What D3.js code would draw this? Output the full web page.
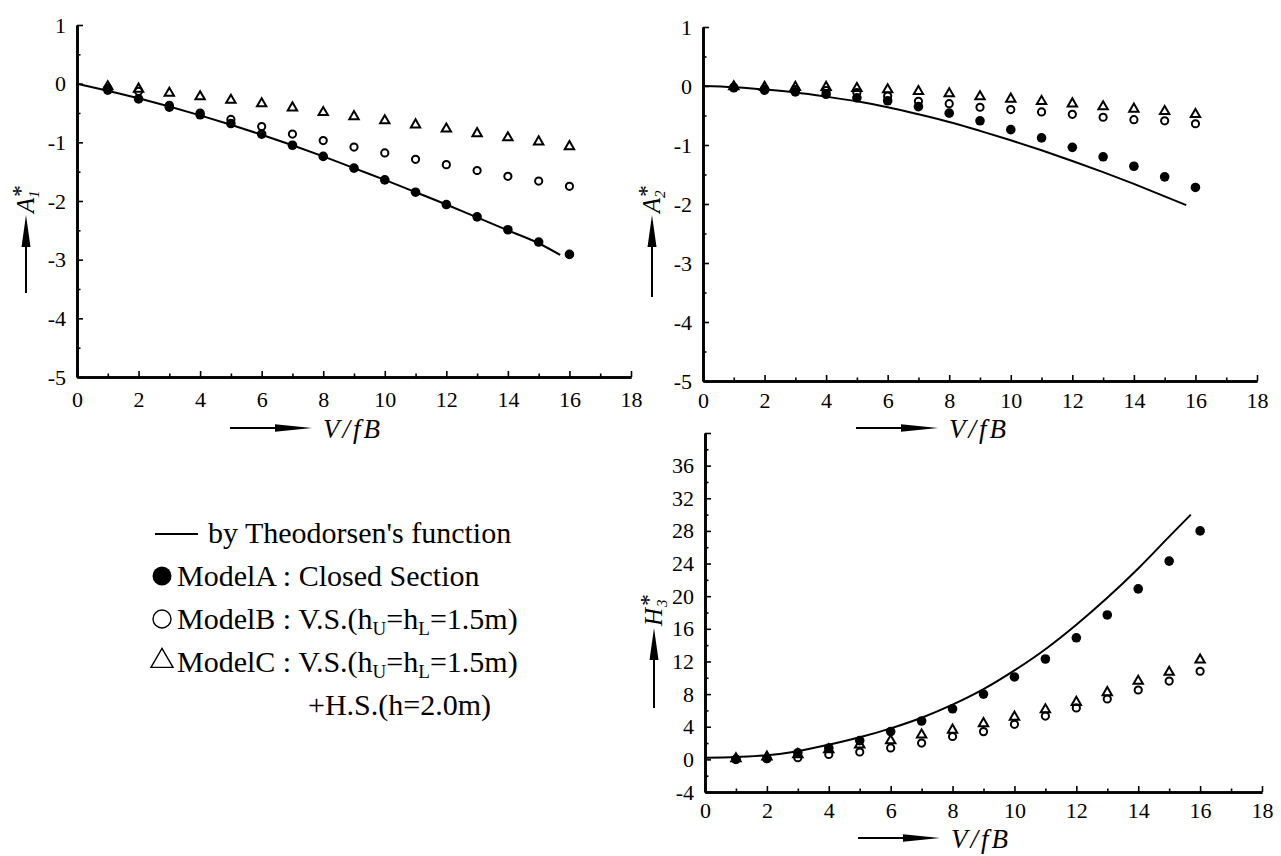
<!DOCTYPE html>
<html>
<head>
<meta charset="utf-8">
<script src="https://cdn.jsdelivr.net/npm/d3@7"></script>
<style>
  body { margin: 0; background: #fff; }
  svg { display: block; }
</style>
</head>
<body>
<svg id="chart"></svg>
<script>
// Chart size
const width = 1281;
const height = 856;

// Data: reduced velocity V/fB and the flutter derivatives
const vfb = [1, 2, 3, 4, 5, 6, 7, 8, 9, 10, 11, 12, 13, 14, 15, 16];
const theoVfb = [0, 1, 2, 3, 4, 5, 6, 7, 8, 9, 10, 11, 12, 13, 14, 15, 15.7];

const a1ModelA = [-0.11, -0.26, -0.40, -0.53, -0.68, -0.86, -1.05, -1.24, -1.44, -1.64, -1.85, -2.06, -2.27, -2.49, -2.70, -2.91];
const a1ModelB = [-0.08, -0.13, -0.37, -0.50, -0.61, -0.73, -0.86, -0.97, -1.08, -1.18, -1.29, -1.38, -1.48, -1.58, -1.66, -1.75];
const a1ModelC = [-0.05, -0.09, -0.16, -0.22, -0.28, -0.34, -0.41, -0.49, -0.56, -0.63, -0.70, -0.77, -0.85, -0.92, -0.99, -1.07];
const a1Theo = [0, -0.12, -0.25, -0.39, -0.54, -0.70, -0.87, -1.05, -1.24, -1.44, -1.64, -1.85, -2.06, -2.28, -2.50, -2.72, -2.92];

const a2ModelA = [-0.03, -0.07, -0.10, -0.14, -0.20, -0.25, -0.35, -0.46, -0.59, -0.74, -0.88, -1.04, -1.20, -1.36, -1.54, -1.72];
const a2ModelB = [-0.02, -0.05, -0.06, -0.08, -0.11, -0.17, -0.26, -0.30, -0.36, -0.40, -0.44, -0.48, -0.53, -0.57, -0.59, -0.64];
const a2ModelC = [-0.01, -0.02, -0.02, -0.02, -0.04, -0.06, -0.09, -0.13, -0.18, -0.22, -0.26, -0.30, -0.35, -0.39, -0.43, -0.48];
const a2Theo = [0, -0.02, -0.06, -0.11, -0.18, -0.26, -0.36, -0.48, -0.61, -0.76, -0.92, -1.09, -1.27, -1.46, -1.66, -1.87, -2.02];

const h3ModelA = [0.0, 0.1, 0.8, 1.4, 2.3, 3.4, 4.7, 6.2, 8.0, 10.1, 12.3, 14.9, 17.7, 20.9, 24.3, 28.0];
const h3ModelB = [0.0, 0.1, 0.2, 0.6, 0.9, 1.4, 2.0, 2.8, 3.4, 4.3, 5.3, 6.3, 7.4, 8.5, 9.6, 10.8];
const h3ModelC = [0.1, 0.3, 0.6, 1.2, 1.8, 2.3, 3.0, 3.6, 4.4, 5.2, 6.1, 7.0, 8.2, 9.6, 10.7, 12.2];
const h3Theo = [0.2, 0.3, 0.5, 1.0, 1.8, 2.7, 3.8, 5.1, 6.7, 8.6, 10.9, 13.5, 16.5, 19.8, 23.4, 27.3, 30.0];

// Tick values
const xMajor = [0, 2, 4, 6, 8, 10, 12, 14, 16, 18];
const xMinor = [1, 3, 5, 7, 9, 11, 13, 15, 17];
const aMajor = [-5, -4, -3, -2, -1, 0, 1];
const aMinor = [-4.5, -3.5, -2.5, -1.5, -0.5, 0.5];
const hMajor = [-4, 0, 4, 8, 12, 16, 20, 24, 28, 32, 36, 40];
const hMinor = [-2, 2, 6, 10, 14, 18, 22, 26, 30, 34, 38];

const serif = "'Liberation Serif', 'Times New Roman', serif";

const svg = d3.select("#chart")
    .attr("width", width)
    .attr("height", height);

// Panel layout
const panels = [
    { x0: 77, x1: 631, yTop: 25, yBot: 377, yDomain: [-5, 1], major: aMajor, minor: aMinor,
      name: "A", sub: "1", labelTip: 215, labelTail: 293, titleDy: 51, tickPad: 14,
      theo: a1Theo, a: a1ModelA, b: a1ModelB, c: a1ModelC },
    { x0: 703, x1: 1257, yTop: 27, yBot: 381, yDomain: [-5, 1], major: aMajor, minor: aMinor,
      name: "A", sub: "2", labelTip: 215, labelTail: 297, titleDy: 47, tickPad: 11,
      theo: a2Theo, a: a2ModelA, b: a2ModelB, c: a2ModelC },
    { x0: 705, x1: 1262, yTop: 433, yBot: 792, yDomain: [-4, 40], major: hMajor, minor: hMinor,
      name: "H", sub: "3", labelTip: 628, labelTail: 708, titleDy: 46, tickPad: 10,
      theo: h3Theo, a: h3ModelA, b: h3ModelB, c: h3ModelC }
];

const triangle = d3.symbol().type(d3.symbolTriangle).size(38);

panels.forEach(p => {
    const x = d3.scaleLinear().domain([0, 18]).range([p.x0, p.x1]);
    const y = d3.scaleLinear().domain(p.yDomain).range([p.yBot, p.yTop]);
    const g = svg.append("g");

    // x axis (ticks point inward)
    const gx = g.append("g").attr("transform", `translate(0,${p.yBot})`);
    gx.call(d3.axisBottom(x).tickValues(xMinor).tickSizeInner(-3.5).tickSizeOuter(0).tickFormat(""));
    gx.append("g").call(d3.axisBottom(x).tickValues(xMajor).tickSizeInner(-6).tickSizeOuter(0)
        .tickPadding(p.tickPad).tickFormat(d => String(d)));

    // y axis
    const gy = g.append("g").attr("transform", `translate(${p.x0},0)`);
    gy.call(d3.axisLeft(y).tickValues(p.minor).tickSizeInner(-3.5).tickSizeOuter(0).tickFormat(""));
    gy.append("g").call(d3.axisLeft(y).tickValues(p.major).tickSizeInner(-6).tickSizeOuter(0)
        .tickPadding(11).tickFormat(d => d === 40 ? "" : String(d)));

    g.selectAll(".domain").attr("stroke", "#000").attr("stroke-width", 2.6);
    g.selectAll(".tick line").attr("stroke", "#000").attr("stroke-width", 1.6);
    g.selectAll(".tick text")
        .attr("font-family", serif)
        .attr("font-size", 22)
        .attr("fill", "#000");

    // Theodorsen curve
    const line = d3.line()
        .x((d, i) => x(theoVfb[i]))
        .y(d => y(d))
        .curve(d3.curveMonotoneX);
    g.append("path")
        .datum(p.theo)
        .attr("d", line)
        .attr("fill", "none")
        .attr("stroke", "#000")
        .attr("stroke-width", 2);

    // Model A: filled circles
    g.selectAll(".ma")
        .data(p.a)
        .enter().append("circle")
        .attr("cx", (d, i) => x(vfb[i]))
        .attr("cy", d => y(d))
        .attr("r", 4.8)
        .attr("fill", "#000");

    // Model C: open triangles
    g.selectAll(".mc")
        .data(p.c)
        .enter().append("path")
        .attr("d", triangle)
        .attr("transform", (d, i) => `translate(${x(vfb[i])},${y(d)})`)
        .attr("fill", "none")
        .attr("stroke", "#000")
        .attr("stroke-width", 2);

    // Model B: open circles
    g.selectAll(".mb")
        .data(p.b)
        .enter().append("circle")
        .attr("cx", (d, i) => x(vfb[i]))
        .attr("cy", d => y(d))
        .attr("r", 3.6)
        .attr("fill", "none")
        .attr("stroke", "#000")
        .attr("stroke-width", 2);

    // x title: arrow + V/fB
    const ty = p.yBot + p.titleDy;
    g.append("line")
        .attr("x1", p.x0 + 153).attr("x2", p.x0 + 205)
        .attr("y1", ty).attr("y2", ty)
        .attr("stroke", "#000").attr("stroke-width", 2);
    g.append("path")
        .attr("d", `M${p.x0 + 198},${ty - 3.8}L${p.x0 + 235},${ty}L${p.x0 + 198},${ty + 3.8}Z`)
        .attr("fill", "#000");
    g.append("text")
        .attr("x", p.x0 + 246)
        .attr("y", ty + 10)
        .attr("font-family", serif)
        .attr("font-style", "italic")
        .attr("font-size", 27)
        .attr("letter-spacing", 3)
        .text("V/fB");

    // y title: upward arrow + rotated symbol
    const ax = p.x0 - 51;
    g.append("line")
        .attr("x1", ax).attr("x2", ax)
        .attr("y1", p.labelTail).attr("y2", p.labelTip + 25)
        .attr("stroke", "#000").attr("stroke-width", 2);
    g.append("path")
        .attr("d", `M${ax - 4.5},${p.labelTip + 32}L${ax},${p.labelTip}L${ax + 4.5},${p.labelTip + 32}Z`)
        .attr("fill", "#000");
    const lab = g.append("g")
        .attr("transform", `translate(${p.x0 - 43},${p.labelTip - 2}) rotate(-90)`)
        .attr("font-family", serif)
        .attr("font-style", "italic");
    lab.append("text").attr("x", 0).attr("y", 0).attr("font-size", 25).text(p.name);
    lab.append("text").attr("x", p.name === "H" ? 19 : 15).attr("y", 5).attr("font-size", 15).text(p.sub);
    lab.append("text").attr("x", p.name === "H" ? 20 : 16).attr("y", -6).attr("font-style", "normal")
        .attr("font-size", 24).text("*");
});

// Legend
const legend = svg.append("g")
    .attr("font-family", serif)
    .attr("font-size", 30)
    .attr("fill", "#000");
const rowY = [543, 586, 629, 672, 715];

legend.append("line")
    .attr("x1", 155).attr("x2", 198)
    .attr("y1", rowY[0] - 9).attr("y2", rowY[0] - 9)
    .attr("stroke", "#000").attr("stroke-width", 2);
legend.append("text").attr("x", 208).attr("y", rowY[0]).text("by Theodorsen's function");

legend.append("circle").attr("cx", 162).attr("cy", rowY[1] - 10).attr("r", 9.5).attr("fill", "#000");
legend.append("text").attr("x", 177).attr("y", rowY[1]).text("ModelA : Closed Section");

legend.append("circle").attr("cx", 162).attr("cy", rowY[2] - 10).attr("r", 9)
    .attr("fill", "none").attr("stroke", "#000").attr("stroke-width", 1.4);
const tB = legend.append("text").attr("x", 177).attr("y", rowY[2]);

legend.append("path")
    .attr("d", d3.symbol().type(d3.symbolTriangle).size(210))
    .attr("transform", `translate(162,${rowY[3] - 11})`)
    .attr("fill", "none").attr("stroke", "#000").attr("stroke-width", 1.4);
const tC = legend.append("text").attr("x", 177).attr("y", rowY[3]);

[tB, tC].forEach((t, i) => {
    t.append("tspan").text(i === 0 ? "ModelB : V.S.(h" : "ModelC : V.S.(h");
    t.append("tspan").attr("font-size", 19).attr("dy", 6).text("U");
    t.append("tspan").attr("dy", -6).text("=h");
    t.append("tspan").attr("font-size", 19).attr("dy", 6).text("L");
    t.append("tspan").attr("dy", -6).text("=1.5m)");
});
legend.append("text").attr("x", 308).attr("y", rowY[4]).text("+H.S.(h=2.0m)");
</script>
</body>
</html>
